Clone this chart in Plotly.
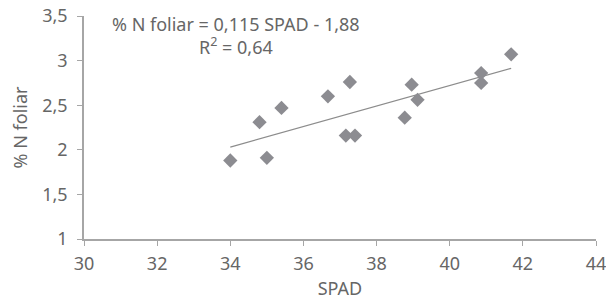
import plotly.graph_objects as go

spad = [34.0, 35.0, 34.8, 35.4, 36.67, 37.27, 37.16, 37.41, 38.77, 38.96, 39.12, 40.86, 40.86, 41.68]
n_foliar = [1.88, 1.91, 2.31, 2.47, 2.60, 2.76, 2.16, 2.16, 2.36, 2.73, 2.56, 2.86, 2.75, 3.07]
slope = 0.115
intercept = -1.88
eq_text = "% N foliar = 0,115 SPAD - 1,88"
r2_text = "R<sup>2</sup> = 0,64"
x_ticks = [30, 32, 34, 36, 38, 40, 42, 44]
y_ticks = [1, 1.5, 2, 2.5, 3, 3.5]
y_tick_labels = ["1", "1,5", "2", "2,5", "3", "3,5"]

FONT = "Noto Sans"
FS = 18
TXT = "#666666"
AX = "#a6a6a6"
MK = "#8c8c91"

x_line = [min(spad), max(spad)]
y_line = [slope * v + intercept for v in x_line]

fig = go.Figure()
fig.add_trace(go.Scatter(x=x_line, y=y_line, mode="lines",
                         line=dict(color="#8c8c8c", width=1.2), hoverinfo="skip"))
fig.add_trace(go.Scatter(x=spad, y=n_foliar, mode="markers",
                         marker=dict(symbol="diamond", size=11, color=MK)))

common = dict(showgrid=False, zeroline=False, showline=True, linecolor=AX, linewidth=1.5,
              ticks="outside", ticklen=5, tickcolor=AX, tickwidth=1.2, automargin=False,
              ticklabeloverflow="allow",
              tickfont=dict(family=FONT, size=FS, color=TXT))

# the page body has an 8px margin; size the figure so the plot area lands where the reference has it
fig.update_layout(
    width=606, height=296,
    margin=dict(l=76, r=18, t=8, b=65),
    paper_bgcolor="white", plot_bgcolor="white",
    showlegend=False,
    xaxis=dict(range=[30, 44], tickvals=x_ticks, ticktext=[str(v) for v in x_ticks],
               title=dict(text="SPAD", font=dict(family=FONT, size=FS, color=TXT), standoff=8),
               ticklabelstandoff=3,
               **common),
    yaxis=dict(range=[1, 3.5], tickvals=y_ticks, ticktext=y_tick_labels,
               title=dict(text="% N foliar", font=dict(family=FONT, size=FS, color=TXT), standoff=12),
               ticklabelstandoff=6,
               **common),
    xaxis2=dict(range=[30, 44], overlaying="x", tickvals=x_ticks, showticklabels=False,
                showgrid=False, zeroline=False, showline=False, ticks="inside", ticklen=5,
                tickcolor=AX, tickwidth=1.2, anchor="y", automargin=False),
    yaxis2=dict(range=[1, 3.5], overlaying="y", tickvals=y_ticks, showticklabels=False,
                showgrid=False, zeroline=False, showline=False, ticks="inside", ticklen=5,
                tickcolor=AX, tickwidth=1.2, anchor="x", automargin=False),
)

fig.add_annotation(xref="x", yref="y", x=34.16, y=3.41, text=eq_text, showarrow=False,
                   font=dict(family=FONT, size=FS, color=TXT), xanchor="center", yanchor="middle")
fig.add_annotation(xref="x", yref="y", x=34.16, y=3.16, text=r2_text, showarrow=False,
                   font=dict(family=FONT, size=FS, color=TXT), xanchor="center", yanchor="middle")

fig.write_html("out.html")
